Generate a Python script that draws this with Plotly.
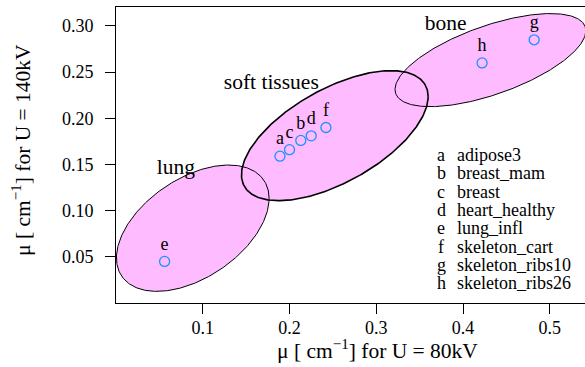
import numpy as np
import plotly.graph_objects as go

# Tissue attenuation values (mu in 1/cm) at the two tube voltages
labels = ["a", "b", "c", "d", "e", "f", "g", "h"]
tissues = ["adipose3", "breast_mam", "breast", "heart_healthy",
           "lung_infl", "skeleton_cart", "skeleton_ribs10", "skeleton_ribs26"]
mu_80kv = [0.189, 0.213, 0.200, 0.225, 0.056, 0.242, 0.482, 0.422]
mu_140kv = [0.159, 0.176, 0.166, 0.181, 0.045, 0.190, 0.285, 0.260]

# Tissue group regions: centre, half extents and correlation of each ellipse
groups = ["lung", "soft tissues", "bone"]
grp_cx = [0.0885, 0.2522, 0.4316]
grp_cy = [0.0810, 0.1812, 0.2630]
grp_rx = [0.0880, 0.1076, 0.1100]
grp_ry = [0.0684, 0.0704, 0.0504]
grp_corr = [0.47, 0.60, 0.63]
grp_label_x = [0.069, 0.179, 0.380]
grp_label_y = [0.146, 0.2376, 0.301]
grp_linewidth = [1.0, 1.6, 1.0]

x_ticks = [0.1, 0.2, 0.3, 0.4, 0.5]
y_ticks = [0.05, 0.10, 0.15, 0.20, 0.25, 0.30]

FONT = "Liberation Serif"
FILL = "#FFBBFF"
POINT = "#1E90FF"

W, H = 585, 367
M_L, M_R, M_T, M_B = 116, 0, 7, 64
X_RANGE = [0.0, 0.5406]
Y_RANGE = [0.0, 0.3205]

fig = go.Figure()

t = np.linspace(0, 2 * np.pi, 361)


def ellipse(cx, cy, rx, ry, corr):
    phi = np.arccos(corr)
    return cx + rx * np.cos(t), cy + ry * np.cos(t - phi)


# filled regions first, outlines on top so every edge stays visible
shapes = [ellipse(*p) for p in zip(grp_cx, grp_cy, grp_rx, grp_ry, grp_corr)]
for ex, ey in shapes:
    fig.add_trace(go.Scatter(x=ex, y=ey, mode="lines", fill="toself",
                             fillcolor=FILL, line=dict(width=0),
                             hoverinfo="skip"))
for (ex, ey), lw in zip(shapes, grp_linewidth):
    fig.add_trace(go.Scatter(x=ex, y=ey, mode="lines",
                             line=dict(color="black", width=lw),
                             hoverinfo="skip"))

# tissue points with their letters
fig.add_trace(go.Scatter(
    x=mu_80kv, y=mu_140kv, mode="markers+text", text=labels,
    textposition="top center",
    textfont=dict(family=FONT, size=18, color="black"),
    marker=dict(symbol="circle-open", size=10, color=POINT,
                line=dict(width=1.3, color=POINT)),
    cliponaxis=False,
))

# group names
fig.add_trace(go.Scatter(
    x=grp_label_x, y=grp_label_y, mode="text", text=groups,
    textposition="middle center",
    textfont=dict(family=FONT, size=21.5, color="black"),
    hoverinfo="skip",
))

annotations = []
# key of letters to tissue names
plot_h = H - M_T - M_B
plot_w = W - M_L - M_R
row0_px, row_step_px = 155.0, 18.3
for i, (lab, name) in enumerate(zip(labels, tissues)):
    py = (H - M_B - (row0_px + i * row_step_px)) / plot_h
    annotations.append(dict(text=lab, xref="paper", yref="paper",
                            x=(441 - M_L) / plot_w, y=py,
                            xanchor="center", yanchor="middle",
                            showarrow=False,
                            font=dict(family=FONT, size=18, color="black")))
    annotations.append(dict(text=name, xref="paper", yref="paper",
                            x=(455 - M_L) / plot_w, y=py,
                            xanchor="left", yanchor="middle",
                            showarrow=False,
                            font=dict(family=FONT, size=18, color="black")))

# axis titles
annotations.append(dict(text="μ [ cm<sup>−1</sup>] for U = 80kV",
                        xref="paper", yref="paper",
                        x=(377 - M_L) / plot_w, y=(H - M_B - 349) / plot_h,
                        xanchor="center", yanchor="middle", showarrow=False,
                        font=dict(family=FONT, size=21.5, color="black")))
annotations.append(dict(text="μ [ cm<sup>−1</sup>] for U = 140kV",
                        xref="paper", yref="paper", textangle=-90,
                        x=(21 - M_L) / plot_w, y=(H - M_B - 150) / plot_h,
                        xanchor="center", yanchor="middle", showarrow=False,
                        font=dict(family=FONT, size=21.5, color="black")))

axis_common = dict(showgrid=False, zeroline=False, showline=True,
                   linecolor="black", linewidth=1, ticks="outside",
                   ticklen=10, tickwidth=1, tickcolor="black",
                   tickfont=dict(family=FONT, size=18, color="black"))

fig.update_layout(
    width=W, height=H,
    margin=dict(l=M_L, r=M_R, t=M_T, b=M_B),
    paper_bgcolor="white", plot_bgcolor="white",
    showlegend=False,
    xaxis=dict(range=X_RANGE, tickvals=x_ticks,
               ticktext=[f"{v:.1f}" for v in x_ticks], mirror=True,
               ticklabelstandoff=-2, **axis_common),
    yaxis=dict(range=Y_RANGE, tickvals=y_ticks,
               ticktext=[f"{v:.2f}" for v in y_ticks],
               ticklabelstandoff=8, **axis_common),
    annotations=annotations,
)

fig.write_html("out.html")
